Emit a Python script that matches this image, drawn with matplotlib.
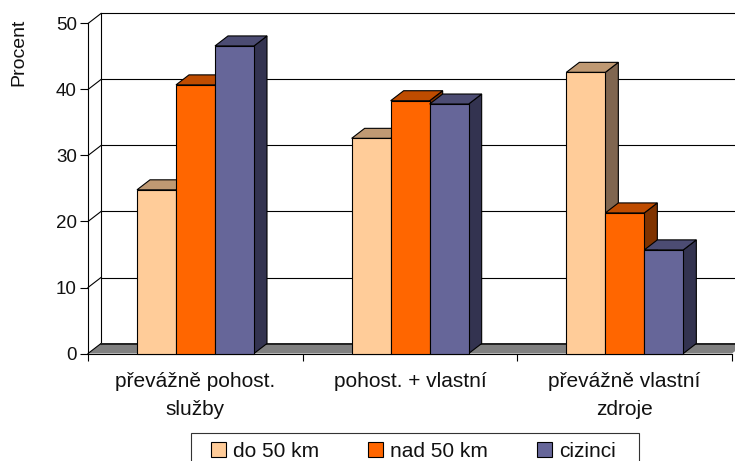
import matplotlib

matplotlib.use("Agg")

import matplotlib.pyplot as plt
from matplotlib.patches import Patch, Polygon, Rectangle

categories = ["převážně pohost.\nslužby", "pohost. + vlastní", "převážně vlastní\nzdroje"]
series_names = ["do 50 km", "nad 50 km", "cizinci"]
do_50 = [24.8, 32.6, 42.6]
nad_50 = [40.7, 38.3, 21.3]
cizinci = [46.6, 37.8, 15.7]
y_ticks = [0, 10, 20, 30, 40, 50]

front_colors = ["#FFCC99", "#FF6600", "#666699"]
top_colors = ["#BF9973", "#BF4C00", "#4C4C73"]
side_colors = ["#806650", "#803300", "#333350"]

plt.rcParams["font.family"] = ["Liberation Sans", "DejaVu Sans"]

W, H = 735, 461
LW = 0.8
fig = plt.figure(figsize=(W / 100, H / 100), dpi=100)
ax = fig.add_axes([88 / W, 1 - 353.5 / H, 644 / W, 330 / H])
ax.set_xlim(0, 3)
ax.set_ylim(0, 50)

# 3d look: how far the back wall is shifted, in data units
dx = 13 / (644 / 3)
dy = 10 / 6.6
bar_w = 39 / (644 / 3)
group_start = 49 / (644 / 3)

# floor
ax.add_patch(Polygon([(0, 0), (dx, dy), (3 + dx, dy), (3, 0)], closed=True, facecolor="#808080",
                     edgecolor="none", clip_on=False, zorder=1))
ax.plot([dx, 3 + dx], [dy, dy], color="#222222", lw=1.4, clip_on=False, zorder=1.5)

# back wall and grid
ax.plot([dx, dx], [dy, 50 + dy], color="black", lw=LW, clip_on=False, zorder=1.2)
for v in y_ticks[1:]:
    ax.plot([dx, 3 + dx], [v + dy, v + dy], color="black", lw=LW, clip_on=False, zorder=1.2)
for v in y_ticks:
    ax.plot([0, dx], [v, v + dy], color="black", lw=LW, clip_on=False, zorder=1.2)

for s, values in enumerate([do_50, nad_50, cizinci]):
    for c, v in enumerate(values):
        x0 = c + group_start + s * bar_w
        x1 = x0 + bar_w
        z = 3 + c * 3 + s
        ax.add_patch(Polygon([(x1, 0), (x1 + dx, dy), (x1 + dx, v + dy), (x1, v)], closed=True,
                             facecolor=side_colors[s], edgecolor="black", lw=LW, clip_on=False, zorder=z))
        ax.add_patch(Polygon([(x0, v), (x0 + dx, v + dy), (x1 + dx, v + dy), (x1, v)], closed=True,
                             facecolor=top_colors[s], edgecolor="black", lw=LW, clip_on=False, zorder=z))
        ax.bar(x0, v, width=bar_w, align="edge", color=front_colors[s], edgecolor="black", lw=LW,
               clip_on=False, zorder=z)

for name in ["top", "right"]:
    ax.spines[name].set_visible(False)
ax.spines["left"].set_linewidth(LW)
ax.spines["bottom"].set_linewidth(LW)
ax.patch.set_alpha(0)

ax.set_yticks(y_ticks)
ax.tick_params(axis="y", length=6, width=LW, pad=2, labelsize=13.5, labelcolor="#111111")
ax.set_xticks([0, 1, 2, 3])
ax.set_xticklabels([])
ax.tick_params(axis="x", which="major", length=5, width=LW)
ax.set_xticks([0.5, 1.5, 2.5], minor=True)
ax.set_xticklabels(categories, minor=True, fontsize=15, linespacing=1.6, color="#111111")
ax.tick_params(axis="x", which="minor", length=0, pad=13)

fig.text(19 / W, 1 - 52 / H, "Procent", rotation=90, ha="center", va="center", fontsize=14, color="#111111")

# legend box runs past the bottom edge of the picture, like the original
fig.add_artist(Rectangle((191.5 / W, 1 - 472 / H), 447.5 / W, 39 / H, transform=fig.transFigure,
                         facecolor="white", edgecolor="#333333", lw=LW))
handles = [Patch(facecolor=front_colors[i], edgecolor="black", lw=LW, label=series_names[i]) for i in range(3)]
fig.legend(handles=handles, loc="upper left", bbox_to_anchor=(211 / W, 1 - 441.5 / H), ncol=3,
           frameon=False, fontsize=15, handlelength=0.72, handleheight=0.72, handletextpad=0.34,
           columnspacing=2.35, borderpad=0, borderaxespad=0, labelcolor="#111111")

fig.savefig("out.png", dpi=100)
